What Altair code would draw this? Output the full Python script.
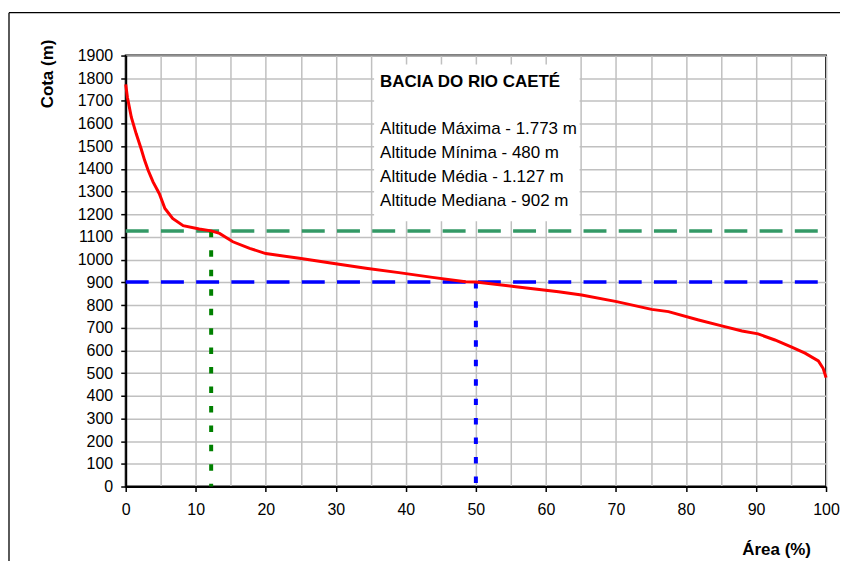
import altair as alt
import pandas as pd

# ---- data ----
area_pct = [0, 0.24, 0.8, 1.5, 2.2, 2.7, 3.2, 3.9, 4.8, 5.6, 6.7, 8.2, 10.5, 12.2,
            13.4, 15.3, 17.7, 20, 24.8, 29.5, 34.3, 39, 43.8, 48.5, 50, 55.7, 61.8,
            65.1, 70.1, 75.1, 77.5, 81.8, 85.1, 88, 90.3, 92.7, 95.1, 97, 98.9, 99.6, 100]
cota = [1773, 1716, 1628, 1555, 1489, 1438, 1394, 1343, 1291, 1226, 1182, 1150, 1135, 1127,
        1116, 1079, 1050, 1027, 1006, 984, 962, 943, 922, 903, 902, 881, 859,
        844, 815, 781, 771, 734, 708, 686, 673, 646, 614, 588, 554, 520, 480]

x_grid_values = list(range(0, 101, 5))
y_tick_values = list(range(0, 1901, 100))

alt_media = 1127
alt_mediana = 902
area_media = 12.2
area_mediana = 50

box_title = "BACIA DO RIO CAETÉ"
box_lines = ["Altitude Máxima - 1.773 m", "Altitude Mínima - 480 m",
             "Altitude Média - 1.127 m", "Altitude Mediana - 902 m"]

FONT = "Liberation Sans"
W, H = 702, 432

curve_df = pd.DataFrame({"area": area_pct, "cota": cota})
one = pd.DataFrame({"k": [0]})

x_scale = alt.Scale(domain=[0, 100], nice=False, zero=False)
y_scale = alt.Scale(domain=[0, 1900], nice=False)

x_axis = alt.Axis(
    values=x_grid_values,
    title="Área (%)",
    format="d",
    labelFlush=False,
    labelExpr="datum.value % 10 === 0 ? datum.label : ''",
    tickOpacity={"condition": {"test": "datum.value % 10 !== 0", "value": 0}, "value": 1},
    titleX=652, titleY=63, titleAlign="center", titleBaseline="middle",
    labelPadding=10,
)
y_axis = alt.Axis(
    values=y_tick_values,
    format="d",
    labelFlush=False,
    title="Cota (m)",
    titleX=-78, titleY=18, titleAngle=270, titleAlign="center", titleBaseline="middle",
    labelPadding=8,
)

X = lambda f: alt.X(f, scale=x_scale, axis=x_axis)
Y = lambda f: alt.Y(f, scale=y_scale, axis=y_axis)

# white box behind the annotation text
box = alt.Chart(one).mark_rect(color="white").encode(
    x=alt.value(249), x2=alt.value(455), y=alt.value(9), y2=alt.value(166)
)

h_df = pd.DataFrame({"y": [alt_media, alt_mediana], "x0": [0, 0], "x1": [100, 100]})
h_media = alt.Chart(h_df.iloc[[0]]).mark_rule(color="#339966", strokeWidth=3.5, strokeDash=[23, 12.3]).encode(
    x=X("x0:Q"), x2="x1:Q", y=Y("y:Q"))
h_mediana = alt.Chart(h_df.iloc[[1]]).mark_rule(color="#0000FF", strokeWidth=3.5, strokeDash=[23, 12.3]).encode(
    x=X("x0:Q"), x2="x1:Q", y=Y("y:Q"))

v_df = pd.DataFrame({"x": [area_media, area_mediana], "y0": [alt_media, alt_mediana], "y1": [0, 0]})
v_media = alt.Chart(v_df.iloc[[0]]).mark_rule(color="#008000", strokeWidth=4, strokeDash=[6.5, 13]).encode(
    x=X("x:Q"), y=Y("y0:Q"), y2="y1:Q")
v_mediana = alt.Chart(v_df.iloc[[1]]).mark_rule(color="#0000FF", strokeWidth=4, strokeDash=[6.5, 13]).encode(
    x=X("x:Q"), y=Y("y0:Q"), y2="y1:Q")

curve = alt.Chart(curve_df).mark_line(color="#FF0000", strokeWidth=3).encode(
    x=X("area:Q"), y=Y("cota:Q"), order="area:Q",
)

title_txt = alt.Chart(pd.DataFrame({"t": [box_title]})).mark_text(
    font=FONT, fontSize=17, fontWeight="bold", align="left", baseline="alphabetic", color="black"
).encode(text="t:N", x=alt.value(255), y=alt.value(32))

line_charts = []
for i, t in enumerate(box_lines):
    line_charts.append(
        alt.Chart(pd.DataFrame({"t": [t]})).mark_text(
            font=FONT, fontSize=17, align="left", baseline="alphabetic", color="black"
        ).encode(text="t:N", x=alt.value(255), y=alt.value(79 + i * 24))
    )

frame_top = alt.Chart(one).mark_rule(color="black", strokeWidth=1.3).encode(
    x=alt.value(-117), x2=alt.value(760), y=alt.value(-43))
frame_left = alt.Chart(one).mark_rule(color="black", strokeWidth=1.3).encode(
    x=alt.value(-117), y=alt.value(-43), y2=alt.value(560))

chart = alt.layer(
    box, h_media, h_mediana, v_media, v_mediana, curve, title_txt, *line_charts,
    frame_top, frame_left
).properties(
    width=W, height=H,
    background="white",
    autosize=alt.AutoSizeParams(type="none"),
    padding={"left": 118, "top": 47, "right": 14, "bottom": 74},
).configure_view(
    stroke="black", strokeWidth=2
).configure_axis(
    labelFont=FONT, labelFontSize=16, labelColor="black",
    titleFont=FONT, titleFontSize=17, titleFontWeight="bold", titleColor="black",
    domainColor="black", domainWidth=2,
    tickColor="black", tickSize=5, tickWidth=1.5,
    gridColor="#c0c0c0", gridWidth=1.5, grid=True,
)

chart.save("out.html", embed_options={"renderer": "svg", "actions": False})
